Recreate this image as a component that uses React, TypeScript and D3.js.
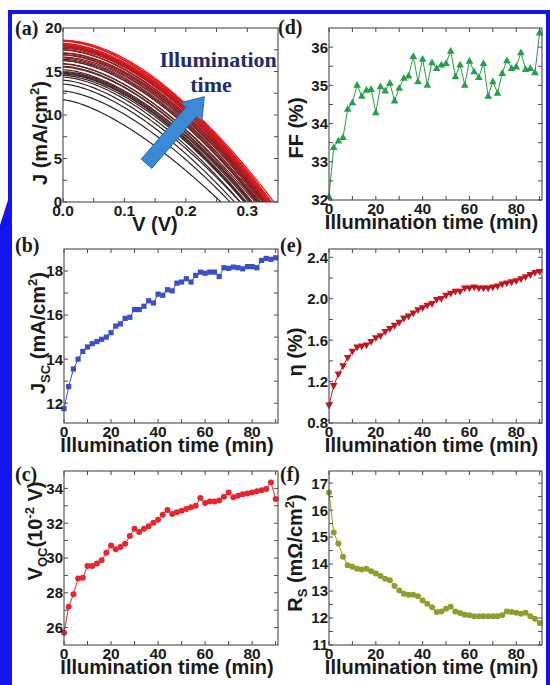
import React from "react";
import * as d3 from "d3";

// Measurement times (min)
const TIME = [0, 2, 4, 6, 8, 10, 12, 14, 16, 18, 20, 22, 24, 26, 28, 30, 32, 34, 36, 38, 40, 42, 44, 46, 48, 50, 52, 54, 56, 58, 60, 62, 64, 66, 68, 70, 72, 74, 76, 78, 80, 82, 84, 86, 88, 90];

// Short-circuit current density (mA/cm^2)
const JSC = [11.75, 12.75, 13.55, 14.0, 14.35, 14.55, 14.7, 14.8, 14.9, 15.0, 15.2, 15.5, 15.6, 15.85, 15.9, 16.25, 16.25, 16.4, 16.65, 16.55, 16.95, 16.9, 17.15, 17.1, 17.45, 17.5, 17.65, 17.5, 17.8, 17.95, 17.9, 17.95, 17.95, 17.75, 18.15, 18.12, 18.18, 18.15, 18.1, 18.2, 18.2, 18.15, 18.48, 18.57, 18.53, 18.6];

// Open-circuit voltage (10^-2 V)
const VOC = [25.71, 27.2, 27.92, 28.82, 28.86, 29.54, 29.54, 29.68, 29.87, 30.3, 30.72, 30.5, 30.63, 30.82, 31.26, 31.68, 31.49, 31.68, 31.83, 32.02, 32.2, 32.48, 32.76, 32.53, 32.63, 32.72, 32.82, 32.91, 33.0, 33.45, 33.16, 33.24, 33.24, 33.3, 33.52, 33.77, 33.49, 33.58, 33.66, 33.71, 33.77, 33.83, 33.89, 33.96, 34.34, 33.39];

// Fill factor (%)
const FF = [32.09, 33.38, 33.55, 33.64, 34.38, 34.55, 35.01, 34.72, 34.88, 34.9, 34.29, 34.97, 34.86, 35.06, 34.6, 34.93, 35.19, 35.25, 35.76, 35.1, 35.69, 35.01, 35.6, 35.45, 35.54, 35.58, 35.9, 35.23, 35.54, 35.01, 35.64, 35.36, 35.21, 35.58, 34.72, 35.1, 34.8, 35.32, 35.65, 35.45, 35.49, 35.86, 35.42, 35.45, 35.34, 36.38];

// Power conversion efficiency (%)
const ETA = [0.97, 1.16, 1.27, 1.35, 1.43, 1.49, 1.53, 1.54, 1.55, 1.585, 1.62, 1.64, 1.68, 1.71, 1.74, 1.77, 1.81, 1.83, 1.86, 1.89, 1.91, 1.935, 1.95, 1.99, 2.0, 2.03, 2.05, 2.07, 2.07, 2.1, 2.1, 2.11, 2.1, 2.1, 2.1, 2.11, 2.12, 2.14, 2.15, 2.16, 2.17, 2.19, 2.21, 2.23, 2.25, 2.26];

// Series resistance (mOhm/cm^2)
const RS = [16.65, 15.17, 14.76, 14.27, 13.96, 13.9, 13.83, 13.8, 13.83, 13.73, 13.65, 13.56, 13.46, 13.4, 13.19, 13.02, 12.9, 12.86, 12.86, 12.81, 12.65, 12.53, 12.4, 12.22, 12.24, 12.34, 12.42, 12.24, 12.19, 12.12, 12.1, 12.07, 12.07, 12.07, 12.07, 12.07, 12.07, 12.1, 12.24, 12.22, 12.2, 12.16, 12.2, 12.07, 11.97, 11.82];

// Tick values
const TIME_LABELS = [0, 20, 40, 60, 80];
const TIME_MINOR = [0, 10, 20, 30, 40, 50, 60, 70, 80, 90];
const V_LABELS = [0, 0.1, 0.2, 0.3];
const V_MINOR = [0, 0.05, 0.1, 0.15, 0.2, 0.25, 0.3];
const J_LABELS = [0, 5, 10, 15, 20];
const J_MINOR = [0, 2.5, 5, 7.5, 10, 12.5, 15, 17.5];
const JSC_LABELS = [12, 14, 16, 18];
const JSC_MINOR = [12, 13, 14, 15, 16, 17, 18];
const VOC_LABELS = [26, 28, 30, 32, 34];
const VOC_MINOR = [26, 27, 28, 29, 30, 31, 32, 33, 34];
const FF_LABELS = [32, 33, 34, 35, 36];
const FF_MINOR = [32, 32.5, 33, 33.5, 34, 34.5, 35, 35.5, 36];
const ETA_LABELS = [0.8, 1.2, 1.6, 2.0, 2.4];
const ETA_MINOR = [0.8, 1.0, 1.2, 1.4, 1.6, 1.8, 2.0, 2.2, 2.4];
const RS_LABELS = [11, 12, 13, 14, 15, 16, 17];
const RS_MINOR = [11, 11.5, 12, 12.5, 13, 13.5, 14, 14.5, 15, 15.5, 16, 16.5, 17];

const SANS = "'Liberation Sans', Arial, sans-serif";
const SERIF = "'Liberation Serif', 'Times New Roman', serif";
const AXIS = "#4a4a4a";
const INK = "#1a1a1a";
const FRAME = "#1414f0";

type Box = { x0: number; x1: number; y0: number; y1: number };

const LEFT = { x0: 64, x1: 278 };
const RIGHT = { x0: 329, x1: 542 };
const ROWS = [
  { y0: 28, y1: 202 },
  { y0: 249, y1: 423 },
  { y0: 471, y1: 645 },
];

type Scale = d3.ScaleLinear<number, number>;

function Axes(props: {
  box: Box;
  x: Scale;
  y: Scale;
  xLabels: number[];
  xMinor: number[];
  yLabels: number[];
  yMinor: number[];
  xFmt: (v: number) => string;
  yFmt: (v: number) => string;
}) {
  const { box, x, y, xLabels, xMinor, yLabels, yMinor, xFmt, yFmt } = props;
  const tl = 4;
  return (
    <g>
      <rect x={box.x0} y={box.y0} width={box.x1 - box.x0} height={box.y1 - box.y0} fill="none" stroke={AXIS} strokeWidth={1.1} />
      {xMinor.map((v) => (
        <g key={"xt" + v} stroke={AXIS} strokeWidth={1}>
          <line x1={x(v)} x2={x(v)} y1={box.y1} y2={box.y1 - tl} />
          <line x1={x(v)} x2={x(v)} y1={box.y0} y2={box.y0 + tl} />
        </g>
      ))}
      {yMinor.map((v) => (
        <g key={"yt" + v} stroke={AXIS} strokeWidth={1}>
          <line x1={box.x0} x2={box.x0 + tl} y1={y(v)} y2={y(v)} />
          <line x1={box.x1} x2={box.x1 - tl} y1={y(v)} y2={y(v)} />
        </g>
      ))}
      {xLabels.map((v) => (
        <text key={"xl" + v} x={x(v)} y={box.y1 + 13.5} textAnchor="middle" fontFamily={SANS} fontWeight="bold" fontSize={15.5} fill={INK}>
          {xFmt(v)}
        </text>
      ))}
      {yLabels.map((v) => (
        <text key={"yl" + v} x={box.x0 - 1} y={y(v)} dy="0.36em" textAnchor="end" fontFamily={SANS} fontWeight="bold" fontSize={15} fill={INK}>
          {yFmt(v)}
        </text>
      ))}
    </g>
  );
}

function Marker({ kind, cx, cy, color }: { kind: string; cx: number; cy: number; color: string }) {
  if (kind === "square") return <rect x={cx - 2.6} y={cy - 2.6} width={5.2} height={5.2} fill={color} />;
  if (kind === "up") return <path d={`M${cx},${cy - 4}L${cx + 3.8},${cy + 2.8}L${cx - 3.8},${cy + 2.8}Z`} fill={color} />;
  if (kind === "down") return <path d={`M${cx},${cy + 4}L${cx + 3.8},${cy - 2.8}L${cx - 3.8},${cy - 2.8}Z`} fill={color} />;
  return <circle cx={cx} cy={cy} r={3} fill={color} />;
}

function TimePanel(props: {
  box: Box;
  values: number[];
  yDomain: [number, number];
  yLabels: number[];
  yMinor: number[];
  yFmt: (v: number) => string;
  color: string;
  marker: string;
  tag: string;
  tagPos: [number, number];
  yTitle: React.ReactNode;
  yTitlePos: [number, number];
}) {
  const { box, values, yDomain, color, marker } = props;
  const x = d3.scaleLinear().domain([0, 91]).range([box.x0, box.x1]);
  const y = d3.scaleLinear().domain(yDomain).range([box.y1, box.y0]);
  const line = d3
    .line<number>()
    .x((_, i) => x(TIME[i]))
    .y((d) => y(d));
  return (
    <g>
      <path d={line(values) ?? ""} fill="none" stroke={color} strokeWidth={1} />
      {values.map((v, i) => (
        <Marker key={i} kind={marker} cx={x(TIME[i])} cy={y(v)} color={color} />
      ))}
      <Axes
        box={box}
        x={x}
        y={y}
        xLabels={TIME_LABELS}
        xMinor={TIME_MINOR}
        yLabels={props.yLabels}
        yMinor={props.yMinor}
        xFmt={(v) => String(v)}
        yFmt={props.yFmt}
      />
      <text x={(box.x0 + box.x1) / 2 - 4} y={box.y1 + 29} textAnchor="middle" fontFamily={SANS} fontWeight="bold" fontSize={20} fill={INK}>
        Illumination time (min)
      </text>
      <text
        transform={`translate(${props.yTitlePos[0]},${props.yTitlePos[1]}) rotate(-90)`}
        textAnchor="middle"
        fontFamily={SANS}
        fontWeight="bold"
        fontSize={20}
        fill={INK}
      >
        {props.yTitle}
      </text>
      <text x={props.tagPos[0]} y={props.tagPos[1]} fontFamily={SERIF} fontWeight="bold" fontSize={20} fill={INK}>
        {props.tag}
      </text>
    </g>
  );
}

// J–V curve shape: J = Jsc (1 - (V/Voc)^n), with n chosen to reproduce the fill factor.
function ffOfN(n: number) {
  return (n / (n + 1)) * Math.pow(n + 1, -1 / n);
}
function exponentForFF(ff: number) {
  let lo = 0.3;
  let hi = 20;
  for (let k = 0; k < 60; k++) {
    const mid = (lo + hi) / 2;
    if (ffOfN(mid) < ff) lo = mid;
    else hi = mid;
  }
  return (lo + hi) / 2;
}

// Arrow and caption anchors in (V, J) units
const ARROW_TAIL: [number, number] = [0.136, 4.4];
const ARROW_TIP: [number, number] = [0.23, 12.1];
const CAPTION_1: [number, number] = [0.157, 15.5];
const CAPTION_2: [number, number] = [0.241, 12.6];

function JVPanel() {
  const box = { x0: 63, x1: 278, ...ROWS[0] };
  const x = d3.scaleLinear().domain([0, 0.35]).range([box.x0, box.x1]);
  const y = d3.scaleLinear().domain([0, 20]).range([box.y1, box.y0]);
  const color = d3.interpolateRgb("#262626", "#ee1a1f");
  const samples = 80;
  const curves = JSC.map((jsc, i) => {
    const voc = VOC[i] / 100;
    const n = exponentForFF(FF[i] / 100);
    const pts: [number, number][] = [];
    for (let k = 0; k <= samples; k++) {
      const v = (voc * k) / samples;
      pts.push([v, jsc * (1 - Math.pow(v / voc, n))]);
    }
    return pts;
  });
  const line = d3
    .line<[number, number]>()
    .x((d) => x(d[0]))
    .y((d) => y(d[1]));

  // arrow outline
  const [tx, ty] = [x(ARROW_TAIL[0]), y(ARROW_TAIL[1])];
  const [hx, hy] = [x(ARROW_TIP[0]), y(ARROW_TIP[1])];
  const len = Math.hypot(hx - tx, hy - ty);
  const ux = (hx - tx) / len;
  const uy = (hy - ty) / len;
  const px = -uy;
  const py = ux;
  const sw = 7;
  const hw = 14;
  const hl = 20;
  const bx = hx - ux * hl;
  const by = hy - uy * hl;
  const arrow = [
    [tx + px * sw, ty + py * sw],
    [bx + px * sw, by + py * sw],
    [bx + px * hw, by + py * hw],
    [hx, hy],
    [bx - px * hw, by - py * hw],
    [bx - px * sw, by - py * sw],
    [tx - px * sw, ty - py * sw],
  ]
    .map((p) => p.join(","))
    .join(" ");

  return (
    <g>
      <defs>
        <clipPath id="jvclip">
          <rect x={box.x0} y={box.y0} width={box.x1 - box.x0} height={box.y1 - box.y0} />
        </clipPath>
      </defs>
      <g clipPath="url(#jvclip)">
        {curves.map((c, i) => (
          <path key={i} d={line(c) ?? ""} fill="none" stroke={color(i / (curves.length - 1))} strokeWidth={1.2} />
        ))}
      </g>
      <polygon points={arrow} fill="#3b8ad6" stroke="#2a64a8" strokeWidth={1} />
      <text x={x(CAPTION_1[0])} y={y(CAPTION_1[1])} fontFamily={SERIF} fontWeight="bold" fontSize={22} fill="#1f2b6e">
        Illumination
      </text>
      <text x={x(CAPTION_2[0])} y={y(CAPTION_2[1])} textAnchor="middle" fontFamily={SERIF} fontWeight="bold" fontSize={22} fill="#1f2b6e">
        time
      </text>
      <Axes
        box={box}
        x={x}
        y={y}
        xLabels={V_LABELS}
        xMinor={V_MINOR}
        yLabels={J_LABELS}
        yMinor={J_MINOR}
        xFmt={d3.format(".1f")}
        yFmt={(v) => String(v)}
      />
      <text x={155} y={box.y1 + 29} textAnchor="middle" fontFamily={SANS} fontWeight="bold" fontSize={20} fill={INK}>
        V (V)
      </text>
      <text transform="translate(47,133) rotate(-90)" textAnchor="middle" fontFamily={SANS} fontWeight="bold" fontSize={20} fill={INK}>
        J (mA/cm
        <tspan dy={-8} fontSize={13}>
          2
        </tspan>
        <tspan dy={8}>)</tspan>
      </text>
      <text x={15} y={35} fontFamily={SERIF} fontWeight="bold" fontSize={20} fill={INK}>
        (a)
      </text>
    </g>
  );
}

export default function App() {
  const f1 = d3.format(".1f");
  const fi = (v: number) => String(v);
  return (
    <svg width={550} height={685} style={{ position: "absolute", left: 0, top: 0, display: "block" }}>
      <rect width={550} height={685} fill="#ffffff" />
      {/* blue border */}
      <rect x={8} y={10} width={542} height={4} fill={FRAME} />
      <rect x={546} y={10} width={4} height={675} fill={FRAME} />
      <polygon points="8,10 12,10 12,685 0,685 0,225 8,200" fill={FRAME} />

      <JVPanel />

      <TimePanel
        box={{ ...LEFT, ...ROWS[1] }}
        values={JSC}
        yDomain={[11.1, 19.0]}
        yLabels={JSC_LABELS}
        yMinor={JSC_MINOR}
        yFmt={fi}
        color="#3b4fc6"
        marker="square"
        tag="(b)"
        tagPos={[15, 252]}
        yTitlePos={[45, 333]}
        yTitle={
          <>
            J
            <tspan dy={5} fontSize={13}>
              SC
            </tspan>
            <tspan dy={-5}> (mA/cm</tspan>
            <tspan dy={-8} fontSize={13}>
              2
            </tspan>
            <tspan dy={8}>)</tspan>
          </>
        }
      />

      <TimePanel
        box={{ ...LEFT, ...ROWS[2] }}
        values={VOC}
        yDomain={[25, 35]}
        yLabels={VOC_LABELS}
        yMinor={VOC_MINOR}
        yFmt={fi}
        color="#e8252f"
        marker="circle"
        tag="(c)"
        tagPos={[15, 481]}
        yTitlePos={[42, 531]}
        yTitle={
          <>
            V
            <tspan dy={5} fontSize={13}>
              OC
            </tspan>
            <tspan dy={-5}>(10</tspan>
            <tspan dy={-8} fontSize={13}>
              -2
            </tspan>
            <tspan dy={8}> V)</tspan>
          </>
        }
      />

      <TimePanel
        box={{ ...RIGHT, y0: 28, y1: 200 }}
        values={FF}
        yDomain={[32, 36.5]}
        yLabels={FF_LABELS}
        yMinor={FF_MINOR}
        yFmt={fi}
        color="#25a04a"
        marker="up"
        tag="(d)"
        tagPos={[278, 34]}
        yTitlePos={[303, 128]}
        yTitle={<>FF (%)</>}
      />

      <TimePanel
        box={{ ...RIGHT, ...ROWS[1] }}
        values={ETA}
        yDomain={[0.8, 2.48]}
        yLabels={ETA_LABELS}
        yMinor={ETA_MINOR}
        yFmt={f1}
        color="#c4141d"
        marker="down"
        tag="(e)"
        tagPos={[280, 252]}
        yTitlePos={[302, 352]}
        yTitle={<>η (%)</>}
      />

      <TimePanel
        box={{ ...RIGHT, ...ROWS[2] }}
        values={RS}
        yDomain={[11, 17.45]}
        yLabels={RS_LABELS}
        yMinor={RS_MINOR}
        yFmt={fi}
        color="#89a12b"
        marker="circle"
        tag="(f)"
        tagPos={[280, 481]}
        yTitlePos={[302, 553]}
        yTitle={
          <>
            R
            <tspan dy={5} fontSize={13}>
              S
            </tspan>
            <tspan dy={-5}> (mΩ/cm</tspan>
            <tspan dy={-8} fontSize={13}>
              2
            </tspan>
            <tspan dy={8}>)</tspan>
          </>
        }
      />
    </svg>
  );
}
